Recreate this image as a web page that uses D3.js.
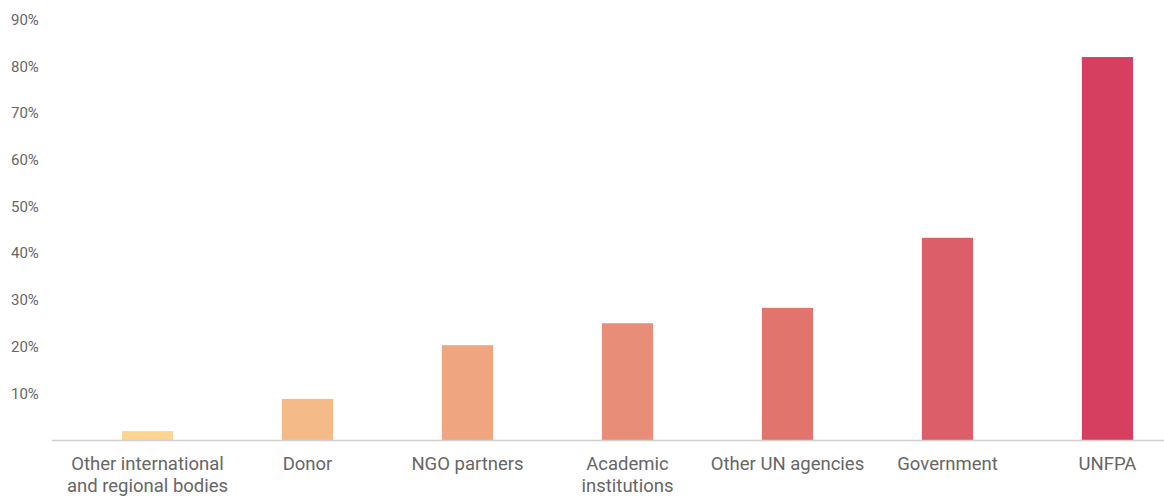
<!DOCTYPE html>
<html>
<head>
<meta charset="utf-8">
<script src="https://cdn.jsdelivr.net/npm/d3@7"></script>
<style>
  body { margin: 0; background: #fff; }
  text { font-family: Roboto, sans-serif; fill: #666; }
</style>
</head>
<body>
<div id="chart"></div>
<script>
// categories and values
var categories = ["Other international\nand regional bodies", "Donor", "NGO partners",
                  "Academic\ninstitutions", "Other UN agencies", "Government", "UNFPA"];
var values = [1.9, 8.8, 20.3, 25.0, 28.3, 43.3, 82.0];
var barColors = ["#fed491", "#f4bb88", "#eea580", "#e88d77", "#e1756d", "#db5e69", "#d63f5f"];
var yTicks = [10, 20, 30, 40, 50, 60, 70, 80, 90];

var width = 1164, height = 496;

var svg = d3.select("#chart").append("svg")
    .attr("width", width)
    .attr("height", height);

var x = d3.scaleBand()
    .domain(categories)
    .range([67.5, 1187.5])
    .paddingInner(0.68)
    .paddingOuter(0.34);

var y = d3.scaleLinear()
    .domain([0, 90])
    .range([440, 19.7]);

// y labels (no axis line)
svg.append("g").selectAll("text")
    .data(yTicks)
    .enter().append("text")
    .attr("x", 11)
    .attr("y", function(d) { return y(d); })
    .attr("dy", "0.35em")
    .style("font-size", "15px")
    .text(function(d) { return d + "%"; });

// bars
svg.selectAll(".bar")
    .data(values)
    .enter().append("rect")
    .attr("class", "bar")
    .attr("x", function(d, i) { return x(categories[i]); })
    .attr("width", x.bandwidth())
    .attr("y", function(d) { return y(d); })
    .attr("height", function(d) { return y(0) - y(d); })
    .attr("fill", function(d, i) { return barColors[i]; });

// baseline
svg.append("line")
    .attr("x1", 52).attr("x2", width)
    .attr("y1", y(0) + 0.5).attr("y2", y(0) + 0.5)
    .attr("stroke", "#d0d0d0")
    .attr("stroke-width", 1.5);

// x labels, some wrap on two lines
var lbl = svg.append("g").selectAll("text")
    .data(categories)
    .enter().append("text")
    .attr("text-anchor", "middle")
    .attr("x", function(d) { return x(d) + x.bandwidth() / 2; })
    .attr("y", 470)
    .style("font-size", "18.5px");

lbl.each(function(d) {
    var lines = d.split("\n");
    var t = d3.select(this);
    lines.forEach(function(s, k) {
        t.append("tspan")
            .attr("x", x(d) + x.bandwidth() / 2)
            .attr("dy", k == 0 ? 0 : 22)
            .text(s);
    });
});
</script>
</body>
</html>
